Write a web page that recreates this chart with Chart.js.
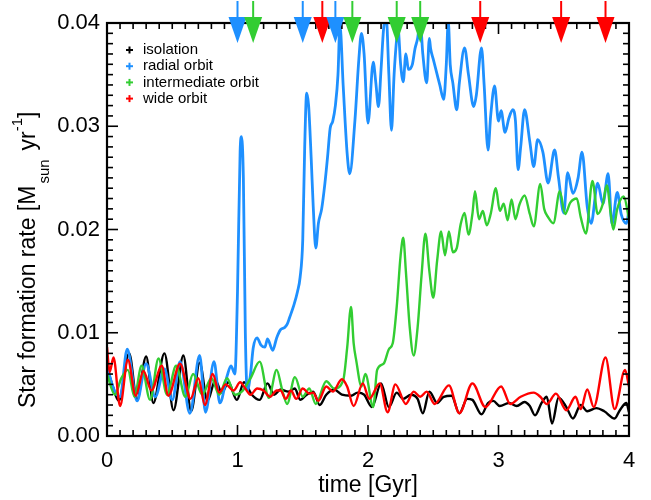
<!DOCTYPE html>
<html>
<head>
<meta charset="utf-8">
<script src="https://cdn.jsdelivr.net/npm/chart.js@4.4.1/dist/chart.umd.min.js"></script>
<style>
  html, body { margin: 0; padding: 0; background: #fff; }
  canvas { display: block; }
</style>
</head>
<body>
<canvas id="sfr" width="651" height="500"></canvas>
<script>
// [time (Gyr), SFR (1e-3 Msun/yr)]
const isolation = [[0.00,6.6],[0.04,5.0],[0.09,3.4],[0.17,8.0],[0.23,3.5],[0.30,7.7],[0.355,3.2],[0.44,8.0],[0.51,2.5],[0.585,7.8],[0.645,2.4],[0.71,7.1],[0.77,3.4],[0.83,5.4],[0.88,4.2],[0.93,5.2],[0.995,3.5],[1.05,5.2],[1.11,4.0],[1.17,3.5],[1.23,5.1],[1.28,4.0],[1.33,4.5],[1.39,4.3],[1.44,4.6],[1.48,3.5],[1.53,4.0],[1.58,4.3],[1.63,3.0],[1.68,4.0],[1.74,4.5],[1.80,4.0],[1.87,3.9],[1.92,4.2],[1.97,4.0],[2.03,2.8],[2.10,5.1],[2.16,2.8],[2.22,4.2],[2.27,3.6],[2.33,4.0],[2.38,3.6],[2.42,2.2],[2.47,4.3],[2.53,3.2],[2.58,3.8],[2.64,3.9],[2.70,2.2],[2.76,3.6],[2.80,3.5],[2.87,2.1],[2.92,3.2],[2.96,3.4],[3.01,2.9],[3.08,3.2],[3.14,2.9],[3.20,3.3],[3.24,2.9],[3.28,2.0],[3.33,3.2],[3.37,3.8],[3.41,1.2],[3.46,3.7],[3.52,2.8],[3.57,1.7],[3.63,3.0],[3.68,2.4],[3.75,2.7],[3.81,2.4],[3.89,1.7],[3.93,2.5],[3.98,3.2],[4.00,2.3]];

const radial = [[0.00,6.8],[0.05,4.6],[0.10,3.8],[0.155,8.4],[0.23,3.4],[0.30,7.0],[0.37,3.8],[0.44,6.5],[0.50,3.5],[0.56,7.2],[0.635,2.2],[0.71,7.8],[0.755,2.3],[0.82,7.2],[0.865,3.2],[0.92,5.8],[0.95,6.8],[0.98,6.0],[1.00,14.0],[1.02,27.5],[1.03,29.0],[1.045,25.0],[1.06,10.0],[1.075,4.4],[1.10,6.0],[1.12,8.5],[1.15,9.5],[1.18,8.8],[1.21,8.6],[1.23,9.4],[1.27,8.3],[1.30,9.5],[1.33,10.3],[1.36,10.5],[1.38,10.8],[1.40,11.5],[1.43,12.6],[1.46,14.0],[1.48,15.4],[1.50,19.0],[1.515,28.0],[1.53,33.2],[1.545,32.0],[1.565,26.8],[1.58,22.3],[1.60,18.2],[1.62,20.6],[1.645,22.0],[1.67,24.5],[1.69,27.0],[1.71,29.8],[1.73,30.5],[1.75,32.0],[1.77,35.0],[1.785,39.8],[1.81,33.9],[1.84,27.4],[1.86,25.4],[1.90,30.6],[1.93,36.5],[1.95,39.0],[1.97,37.0],[2.00,30.3],[2.04,36.2],[2.06,34.2],[2.08,31.9],[2.10,35.5],[2.12,39.5],[2.14,40.5],[2.16,35.0],[2.18,29.6],[2.20,35.0],[2.22,38.5],[2.23,39.5],[2.25,36.0],[2.27,34.3],[2.29,37.0],[2.31,35.5],[2.34,36.0],[2.36,37.5],[2.38,38.5],[2.40,40.2],[2.42,37.0],[2.45,34.2],[2.47,38.5],[2.48,37.5],[2.50,36.5],[2.53,35.0],[2.55,34.0],[2.58,32.6],[2.60,36.0],[2.615,40.2],[2.63,36.0],[2.65,34.2],[2.68,31.6],[2.70,34.2],[2.74,37.6],[2.77,35.0],[2.81,31.9],[2.83,33.0],[2.87,37.6],[2.89,34.0],[2.92,27.7],[2.94,31.0],[2.97,33.9],[3.00,30.5],[3.02,31.5],[3.05,29.4],[3.08,30.8],[3.11,31.6],[3.13,30.5],[3.15,25.8],[3.17,28.0],[3.20,31.6],[3.24,28.5],[3.27,26.1],[3.30,28.7],[3.34,27.5],[3.38,24.5],[3.43,27.7],[3.46,25.0],[3.50,21.6],[3.53,25.5],[3.57,23.5],[3.61,25.0],[3.64,27.5],[3.68,22.2],[3.71,20.6],[3.76,24.5],[3.80,22.5],[3.84,25.4],[3.87,20.5],[3.91,23.6],[3.94,21.5],[3.98,20.6],[4.00,21.9]];

const intermediate = [[0.00,6.0],[0.06,4.0],[0.11,5.6],[0.16,6.4],[0.21,3.8],[0.265,6.8],[0.33,3.5],[0.395,7.5],[0.46,4.0],[0.53,6.8],[0.60,3.8],[0.66,6.0],[0.73,4.0],[0.80,5.6],[0.86,4.0],[0.92,5.6],[0.98,4.0],[1.04,4.4],[1.10,5.6],[1.17,7.2],[1.24,3.7],[1.30,6.4],[1.34,4.6],[1.38,3.1],[1.44,5.7],[1.50,3.8],[1.55,4.6],[1.60,3.1],[1.68,5.3],[1.74,4.6],[1.81,5.4],[1.84,8.5],[1.87,12.5],[1.89,9.0],[1.91,7.3],[1.95,4.8],[1.98,6.0],[2.04,2.8],[2.07,6.4],[2.12,7.0],[2.16,8.4],[2.19,9.0],[2.22,12.5],[2.25,17.5],[2.27,19.2],[2.29,16.0],[2.32,10.5],[2.35,7.8],[2.38,10.5],[2.41,15.5],[2.44,19.6],[2.47,16.0],[2.50,13.4],[2.53,17.0],[2.56,19.8],[2.59,17.5],[2.62,19.8],[2.65,17.8],[2.68,18.2],[2.71,20.5],[2.74,21.6],[2.77,19.5],[2.80,21.5],[2.82,23.7],[2.85,21.0],[2.88,21.8],[2.91,20.4],[2.94,21.5],[2.98,24.0],[3.01,21.8],[3.04,22.5],[3.07,20.9],[3.10,22.9],[3.13,21.0],[3.16,22.4],[3.20,23.3],[3.24,21.5],[3.27,20.3],[3.32,24.4],[3.35,22.0],[3.38,21.2],[3.42,20.6],[3.47,23.7],[3.51,21.5],[3.55,22.6],[3.60,23.0],[3.63,21.2],[3.67,19.6],[3.72,24.7],[3.76,21.5],[3.80,22.5],[3.83,24.3],[3.86,21.5],[3.88,20.0],[3.91,22.0],[3.96,23.2],[4.00,21.0]];

const wide = [[0.00,8.6],[0.02,6.2],[0.05,7.6],[0.10,2.9],[0.16,7.4],[0.22,3.9],[0.28,6.3],[0.34,4.4],[0.42,6.8],[0.47,3.9],[0.56,7.0],[0.64,3.6],[0.70,5.6],[0.75,3.0],[0.81,6.0],[0.86,4.2],[0.91,5.0],[0.97,4.4],[1.02,5.2],[1.06,4.6],[1.10,4.0],[1.15,4.6],[1.20,4.4],[1.25,3.8],[1.30,4.4],[1.33,4.4],[1.37,3.6],[1.41,4.4],[1.45,3.6],[1.50,4.6],[1.55,4.1],[1.58,4.2],[1.62,3.4],[1.68,4.8],[1.73,4.3],[1.80,5.5],[1.84,4.8],[1.89,2.9],[1.96,5.1],[2.01,3.6],[2.09,5.1],[2.15,2.3],[2.21,5.0],[2.29,3.1],[2.35,4.3],[2.40,3.8],[2.45,4.3],[2.51,3.1],[2.62,4.9],[2.70,2.2],[2.80,5.1],[2.90,2.8],[3.02,4.8],[3.09,3.1],[3.17,3.8],[3.27,4.2],[3.32,3.8],[3.37,3.1],[3.44,4.1],[3.52,2.5],[3.59,3.8],[3.63,2.6],[3.68,4.5],[3.73,2.8],[3.82,7.6],[3.89,2.6],[3.97,6.4],[4.00,4.8]];

// pericentre markers along the top axis
const arrowTimes  = [1.00, 1.12, 1.50, 1.65, 1.75, 1.88, 2.22, 2.40, 2.86, 3.48, 3.82];
const arrowOrbits = ['radial', 'intermediate', 'radial', 'wide', 'radial', 'intermediate', 'intermediate', 'intermediate', 'wide', 'wide', 'wide'];

const legendLabels = ['isolation', 'radial orbit', 'intermediate orbit', 'wide orbit'];
const colors = {
  isolation   : '#000000',
  radial      : '#1e90ff',
  intermediate: '#32cd32',
  wide        : '#ff0000',
};

const FONT = '"Liberation Sans", Arial, Helvetica, sans-serif';

const toPoints = arr => arr.map(([t, v]) => ({ x: t, y: v / 1000 }));

function series(data, color, order, width) {
  return {
    data: toPoints(data),
    borderColor: color,
    borderWidth: width,
    pointRadius: 0,
    cubicInterpolationMode: 'monotone',
    fill: false,
    clip: 0,
    order: order,
  };
}

function line(ctx, x1, y1, x2, y2) {
  ctx.beginPath();
  ctx.moveTo(x1, y1);
  ctx.lineTo(x2, y2);
  ctx.stroke();
}

const decorations = {
  id: 'decorations',
  afterDraw(chart) {
    const { ctx, chartArea: a, scales: { x, y } } = chart;
    ctx.save();

    // inward ticks on all four sides
    ctx.strokeStyle = '#000';
    ctx.lineWidth = 1.6;
    for (let i = 0; i <= 40; i++) {
      const len = i % 10 === 0 ? 11 : 6;
      const px = x.getPixelForValue(i / 10);
      line(ctx, px, a.bottom, px, a.bottom - len);
      line(ctx, px, a.top, px, a.top + len);
      const py = y.getPixelForValue(i / 1000);
      line(ctx, a.left, py, a.left + len, py);
      line(ctx, a.right, py, a.right - len, py);
    }
    ctx.lineWidth = 2.2;
    ctx.strokeRect(a.left, a.top, a.right - a.left, a.bottom - a.top);

    // arrows
    arrowTimes.forEach((t, i) => {
      const px = x.getPixelForValue(t);
      const c = colors[arrowOrbits[i]];
      ctx.strokeStyle = c;
      ctx.fillStyle = c;
      ctx.lineWidth = 2;
      line(ctx, px, 1, px, 18);
      ctx.beginPath();
      ctx.moveTo(px - 9, 17);
      ctx.lineTo(px + 9, 17);
      ctx.lineTo(px, 43);
      ctx.closePath();
      ctx.fill();
    });

    // legend
    const keys = ['isolation', 'radial', 'intermediate', 'wide'];
    ctx.font = '15px ' + FONT;
    ctx.textBaseline = 'middle';
    ctx.textAlign = 'left';
    keys.forEach((k, i) => {
      const ly = 50 + i * 16.2;
      ctx.strokeStyle = colors[k];
      ctx.lineWidth = 2;
      line(ctx, a.left + 22.5, ly - 3.5, a.left + 22.5, ly + 3.5);
      line(ctx, a.left + 19, ly, a.left + 26, ly);
      ctx.fillStyle = '#000';
      ctx.fillText(legendLabels[i], a.left + 36, ly);
    });

    // y-axis title with sub/superscript
    ctx.translate(35, 408);
    ctx.rotate(-Math.PI / 2);
    ctx.fillStyle = '#000';
    ctx.textBaseline = 'alphabetic';
    let cx = 0;
    ctx.font = '23px ' + FONT;
    const main = 'Star formation rate [M';
    ctx.fillText(main, cx, 0);
    cx += ctx.measureText(main).width + 2;
    ctx.font = '15px ' + FONT;
    ctx.fillText('sun', cx, 14);
    cx += ctx.measureText('sun').width + 9;
    ctx.font = '23px ' + FONT;
    ctx.fillText('yr', cx, 0);
    cx += ctx.measureText('yr').width;
    ctx.font = '15px ' + FONT;
    ctx.fillText('-1', cx, -13);
    cx += ctx.measureText('-1').width;
    ctx.font = '23px ' + FONT;
    ctx.fillText(']', cx, 0);

    ctx.restore();
  }
};

new Chart(document.getElementById('sfr'), {
  type: 'line',
  data: {
    datasets: [
      series(isolation, colors.isolation, 3, 2.4),
      series(radial, colors.radial, 2, 2.8),
      series(intermediate, colors.intermediate, 1, 2.4),
      series(wide, colors.wide, 0, 2.4),
    ]
  },
  options: {
    responsive: false,
    animation: false,
    devicePixelRatio: 1,
    layout: { padding: { left: 0, right: 22, top: 23, bottom: 0 } },
    plugins: {
      legend: { display: false },
      tooltip: { enabled: false },
    },
    scales: {
      x: {
        type: 'linear',
        min: 0,
        max: 4,
        grid: { display: false, drawTicks: false },
        border: { display: false },
        ticks: {
          stepSize: 1,
          color: '#000',
          padding: 12,
          font: { family: FONT, size: 22 },
        },
        title: {
          display: true,
          text: 'time [Gyr]',
          color: '#000',
          font: { family: FONT, size: 23 },
          padding: { top: 0, bottom: 1 },
        },
        afterFit: s => { s.height = 64; },
      },
      y: {
        min: 0,
        max: 0.04,
        grid: { display: false, drawTicks: false },
        border: { display: false },
        ticks: {
          stepSize: 0.01,
          color: '#000',
          padding: 7,
          font: { family: FONT, size: 22 },
          callback: v => v.toFixed(2),
        },
        afterFit: s => { s.width = 107; },
      },
    },
  },
  plugins: [decorations],
});
</script>
</body>
</html>
